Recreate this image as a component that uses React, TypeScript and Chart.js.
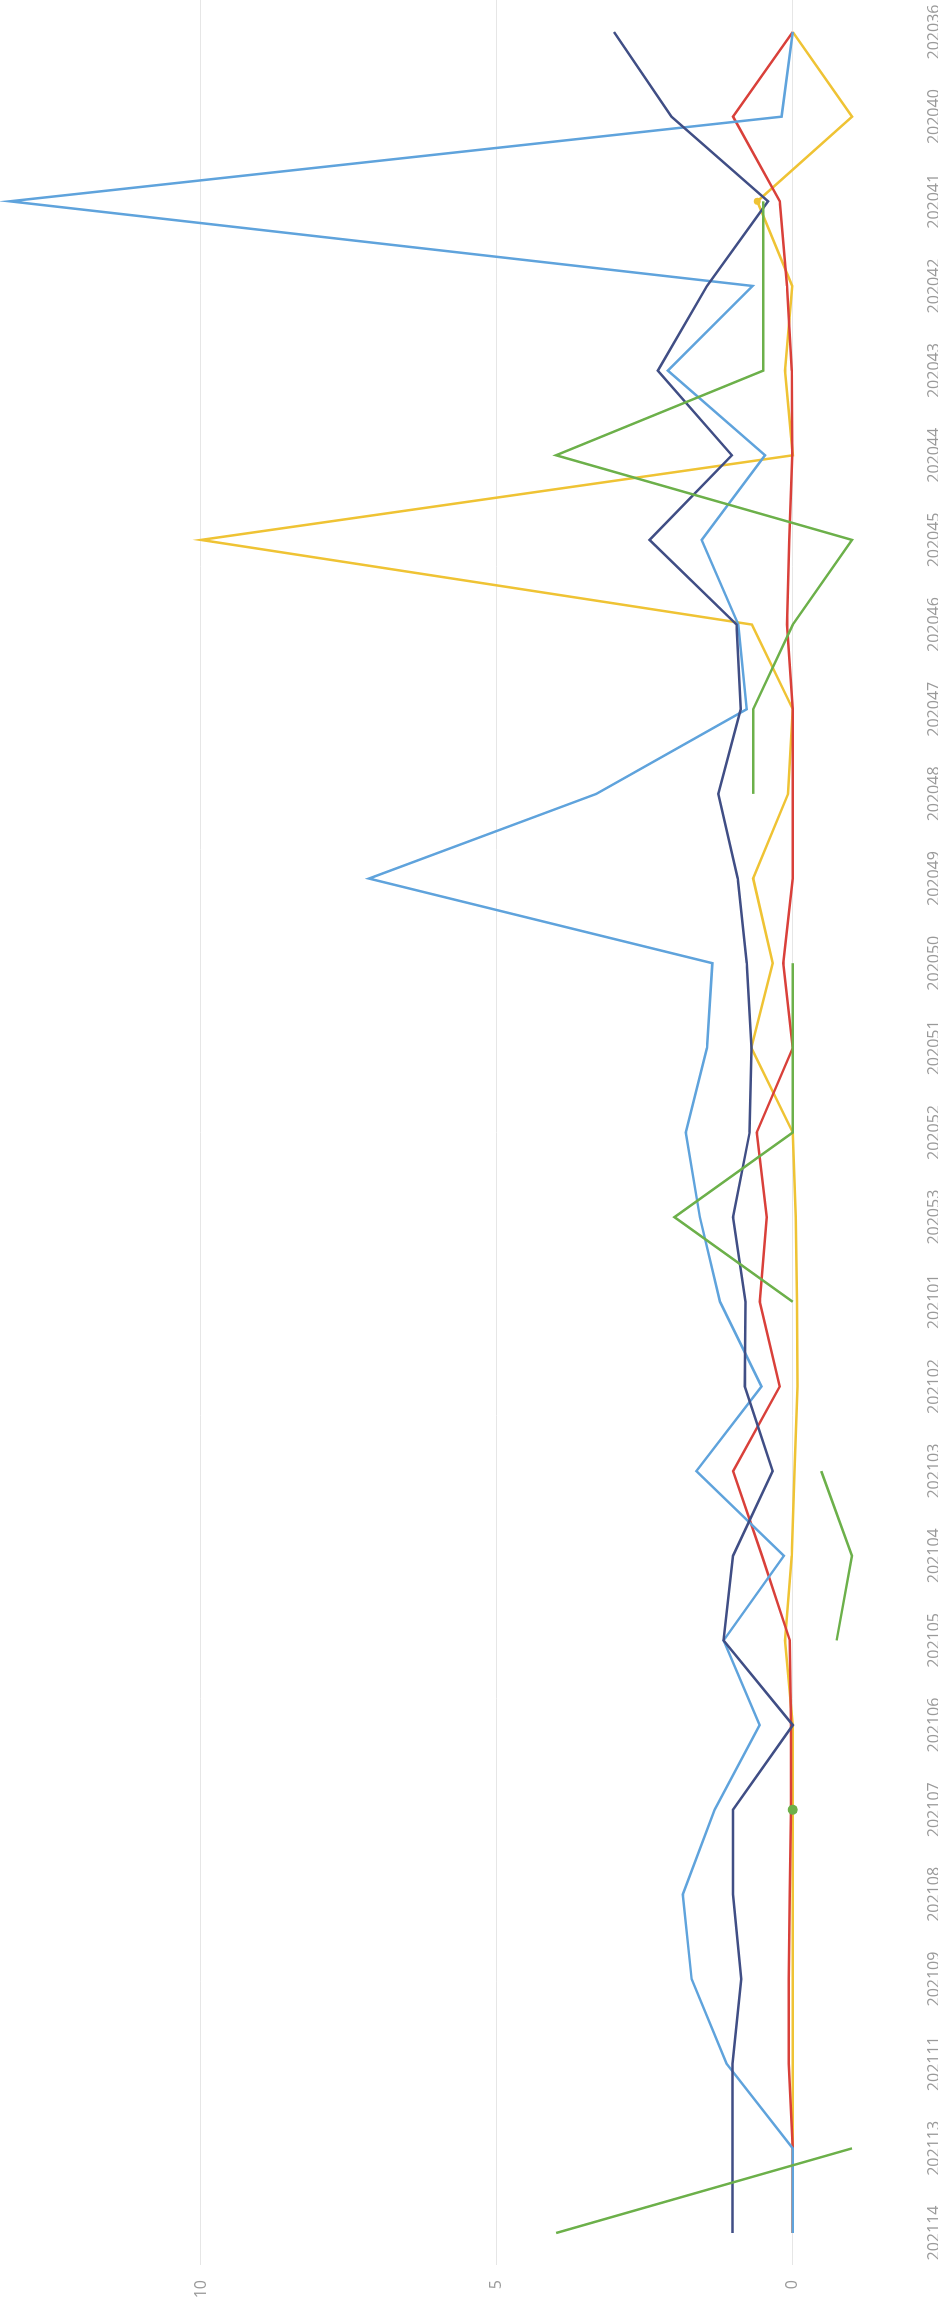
import React, { useEffect, useRef } from 'react';
import { Chart, registerables } from 'chart.js';

Chart.register(...registerables);

const categories = [
  '202036', '202040', '202041', '202042', '202043', '202044', '202045', '202046', '202047',
  '202048', '202049', '202050', '202051', '202052', '202053', '202101', '202102', '202103',
  '202104', '202105', '202106', '202107', '202108', '202109', '202111', '202113', '202114',
];

const navySeries = [3.02, 2.05, 0.42, 1.45, 2.28, 1.03, 2.42, 0.95, 0.88, 1.26, 0.93, 0.78, 0.7, 0.73, 1.01, 0.8, 0.81, 0.34, 1.01, 1.17, 0, 1.01, 1.01, 0.87, 1.02, 1.02, 1.02];
const lightBlueSeries = [0, 0.19, 13.23, 0.68, 2.11, 0.47, 1.54, 0.92, 0.78, 3.32, 7.16, 1.36, 1.45, 1.81, 1.57, 1.23, 0.53, 1.63, 0.15, 1.17, 0.56, 1.32, 1.86, 1.71, 1.12, 0, 0];
const redSeries = [0, 1.01, 0.22, 0.1, 0.02, 0.01, 0.06, 0.1, 0, 0, 0, 0.16, 0, 0.61, 0.44, 0.56, 0.22, 1.01, 0.52, 0.05, 0.03, 0.03, 0.05, 0.07, 0.07, 0, 0];
const yellowSeries = [0, -1, 0.6, 0.01, 0.13, 0, 10.0, 0.69, 0, 0.08, 0.67, 0.34, 0.7, 0, -0.05, -0.07, -0.08, -0.03, 0.02, 0.13, 0, 0, 0, 0, 0, 0, 0];
const greenSeries: (number | null)[] = [null, null, 0.5, 0.5, 0.5, 4.0, -1, 0, 0.67, 0.67, null, 0, 0, 0, 2.0, 0, null, -0.48, -1, -0.74, null, 0, null, null, null, -1, 4.0];

const valueTicks = [0, 5, 10];

const W = 2309;
const H = 938;

export default function App() {
  const ref = useRef<HTMLCanvasElement>(null);

  useEffect(() => {
    const toPts = (arr: (number | null)[]) => arr.map((v, i) => ({ x: i, y: v }));
    const isolated = (arr: (number | null)[], r: number) =>
      arr.map((v, i) => (v !== null && (i === 0 || arr[i - 1] === null) && (i === arr.length - 1 || arr[i + 1] === null) ? r : 0));
    const font = { family: "'Segoe UI', 'Open Sans', sans-serif", size: 16 };
    const common = { borderWidth: 2.5, tension: 0, spanGaps: false, clip: false as any, pointHoverRadius: 0 };

    const chart = new Chart(ref.current as HTMLCanvasElement, {
      type: 'line',
      data: {
        datasets: [
          { ...common, label: 'green', data: toPts(greenSeries), borderColor: '#6cb04a', backgroundColor: '#6cb04a', pointRadius: isolated(greenSeries, 5), pointBorderWidth: 0 },
          { ...common, label: 'navy', data: toPts(navySeries), borderColor: '#404e85', backgroundColor: '#404e85', pointRadius: 0 },
          { ...common, label: 'lightblue', data: toPts(lightBlueSeries), borderColor: '#5fa3dc', backgroundColor: '#5fa3dc', pointRadius: 0 },
          { ...common, label: 'red', data: toPts(redSeries), borderColor: '#d9403a', backgroundColor: '#d9403a', pointRadius: 0 },
          { ...common, label: 'yellow', data: toPts(yellowSeries), borderColor: '#efc334', backgroundColor: '#efc334', pointRadius: yellowSeries.map((_, i) => (i === 2 ? 3.5 : 0)), pointBorderWidth: 0 },
        ] as any,
      },
      options: {
        responsive: false,
        animation: false,
        events: [],
        layout: { padding: { top: 8, right: 0, bottom: 0, left: 0 } },
        plugins: { legend: { display: false }, tooltip: { enabled: false }, title: { display: false } },
        scales: {
          x: {
            type: 'linear',
            reverse: true,
            min: -0.378,
            max: categories.length - 1 + 0.378,
            grid: { display: false },
            border: { display: false },
            afterFit: (scale: any) => {
              scale.height = 86;
              scale.paddingLeft = 0;
              scale.paddingRight = 0;
              scale.paddingTop = 0;
              scale.paddingBottom = 0;
            },
            ticks: {
              stepSize: 1,
              autoSkip: false,
              includeBounds: false,
              maxRotation: 0,
              minRotation: 0,
              padding: 65,
              color: '#9a9a9a',
              font,
              callback: (v: any) => categories[v as number] ?? '',
            },
          },
          y: {
            type: 'linear',
            min: -1,
            max: 13.26,
            grid: { color: '#e6e6e6', lineWidth: 1, drawTicks: false },
            border: { display: false },
            afterFit: (scale: any) => {
              scale.width = 44;
              scale.paddingLeft = 0;
              scale.paddingRight = 0;
              scale.paddingTop = 0;
              scale.paddingBottom = 0;
            },
            afterBuildTicks: (scale: any) => { scale.ticks = valueTicks.map((v) => ({ value: v })); },
            ticks: {
              stepSize: 5,
              includeBounds: false,
              padding: 15,
              color: '#9a9a9a',
              font,
            },
          },
        },
      } as any,
    });
    return () => chart.destroy();
  }, []);

  return (
    <div style={{ position: 'absolute', left: 0, top: 0, width: 938, height: 2309, overflow: 'hidden', background: '#ffffff' }}>
      <div
        style={{
          position: 'absolute',
          left: 0,
          top: 0,
          width: W,
          height: H,
          transformOrigin: '0 0',
          transform: `translateY(${W}px) rotate(-90deg)`,
        }}
      >
        <canvas ref={ref} width={W} height={H} style={{ display: 'block', width: W, height: H }} />
      </div>
    </div>
  );
}
